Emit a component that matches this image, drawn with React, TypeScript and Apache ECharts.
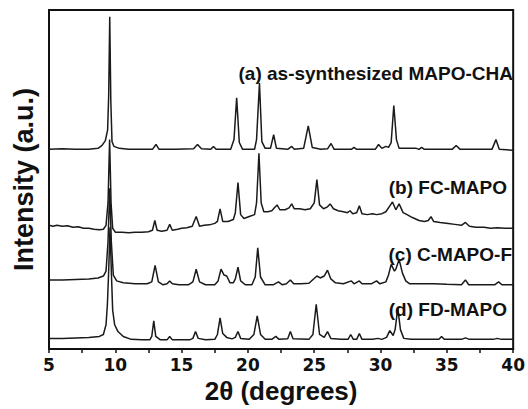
import React, { useEffect, useRef } from "react";
import * as echarts from "echarts";

const xTicks = [5, 10, 15, 20, 25, 30, 35, 40];

const traceA: [number, number][] = [
  [5.0, 205], [6.0, 205.5], [7.0, 205], [8.0, 205], [8.7, 206], [9.0, 209], [9.25, 214], [9.42, 225], [9.5, 260], [9.58, 341],
  [9.66, 255], [9.75, 213], [9.9, 208], [10.3, 206], [11, 205], [12, 205], [12.8, 205], [13.07, 210], [13.3, 205],
  [14.5, 205], [15.9, 205.5], [16.2, 210], [16.5, 205.5], [17.2, 205], [17.4, 208], [17.6, 205], [18.7, 205],
  [18.95, 215], [19.15, 258], [19.35, 212], [19.6, 205], [20.5, 205], [20.65, 215], [20.87, 273], [21.05, 213],
  [21.3, 206], [21.7, 206], [21.94, 220], [22.15, 206], [23.0, 205], [23.3, 208], [23.5, 205], [24.2, 206],
  [24.55, 229], [24.85, 207], [25.5, 205], [26.0, 205.5], [26.27, 211], [26.5, 205], [27.8, 205], [28.0, 207],
  [28.2, 205], [29.6, 205], [29.85, 210], [30.1, 206], [30.4, 208], [30.6, 207], [30.8, 212], [31.0, 250],
  [31.2, 215], [31.4, 206], [32.7, 206], [32.9, 205], [33.1, 207], [33.3, 205], [35.4, 205], [35.7, 209],
  [36.0, 205], [38.4, 205], [38.7, 215], [38.95, 205], [40, 204],
];

const traceB: [number, number][] = [
  [5.0, 127], [5.3, 126], [5.6, 127], [6.0, 126], [6.4, 126.5], [6.8, 125], [7.2, 125.5], [7.6, 124], [8.0, 124],
  [8.4, 123], [8.8, 122.5], [9.1, 123], [9.3, 127], [9.45, 150], [9.57, 215], [9.68, 150], [9.8, 124], [10.0, 120],
  [10.5, 120], [11.0, 119.5], [11.5, 120], [12.0, 120], [12.5, 120.5], [12.8, 122], [12.98, 132], [13.15, 122],
  [13.5, 121], [13.9, 122], [14.1, 128], [14.3, 122], [14.7, 123], [15.0, 124], [15.4, 124.5], [15.8, 126],
  [16.1, 136], [16.35, 126], [16.7, 127], [17.1, 127.5], [17.5, 129], [17.7, 131], [17.9, 144], [18.1, 131],
  [18.5, 131], [18.9, 133], [19.05, 140], [19.25, 171], [19.45, 138], [19.7, 134], [20.1, 136], [20.5, 138],
  [20.65, 150], [20.83, 201], [21.0, 150], [21.2, 141], [21.5, 141], [21.8, 142], [22.0, 145], [22.2, 148],
  [22.4, 143], [22.8, 143], [23.1, 145], [23.3, 149], [23.5, 144], [23.9, 144], [24.3, 143], [24.7, 144],
  [25.0, 150], [25.2, 174], [25.4, 148], [25.7, 144], [26.0, 146], [26.2, 149], [26.45, 144], [26.8, 142],
  [27.2, 141], [27.5, 140], [27.7, 142], [27.9, 139], [28.2, 140], [28.4, 147], [28.6, 139], [29.0, 138],
  [29.4, 139], [29.7, 138], [30.1, 139], [30.4, 141], [30.7, 147], [30.9, 151], [31.15, 143], [31.4, 149],
  [31.7, 140], [32.0, 138], [32.4, 135], [32.9, 132], [33.3, 131], [33.6, 132], [33.8, 136], [34.0, 131],
  [34.5, 130], [35.1, 129], [35.6, 128], [36.1, 127], [36.4, 130], [36.7, 126], [37.2, 125], [37.8, 125],
  [38.3, 124], [38.8, 124.5], [39.4, 124], [40.0, 124],
];

const traceC: [number, number][] = [
  [5.0, 71], [6.0, 71], [7.0, 71.5], [8.0, 72], [8.7, 73], [9.1, 75], [9.3, 80], [9.45, 110], [9.58, 165],
  [9.7, 110], [9.85, 76], [10.1, 70], [10.6, 68], [11.5, 67], [12.4, 67], [12.75, 69], [13.0, 86], [13.25, 69],
  [13.6, 66], [13.9, 67], [14.1, 70], [14.3, 67], [14.8, 66], [15.5, 66], [15.85, 69], [16.1, 82], [16.35, 69],
  [16.8, 66], [17.5, 66], [17.75, 70], [17.97, 82], [18.2, 76], [18.4, 75], [18.65, 68], [18.9, 68], [19.05, 72],
  [19.25, 84], [19.45, 70], [19.8, 66], [20.3, 66], [20.55, 74], [20.74, 104], [20.95, 74], [21.3, 66], [21.9, 66],
  [22.3, 69], [22.6, 66], [22.9, 67], [23.2, 71], [23.45, 67], [24.0, 67], [24.6, 67.5], [24.95, 72], [25.2, 75],
  [25.45, 73], [25.75, 75], [26.0, 81], [26.25, 72], [26.6, 68], [27.2, 67], [27.8, 70], [28.0, 67], [28.4, 70],
  [28.6, 67], [29.3, 67], [29.7, 70], [29.95, 67], [30.4, 69], [30.6, 76], [30.8, 87], [31.05, 80], [31.15, 82],
  [31.4, 92], [31.65, 78], [31.9, 70], [32.2, 67], [33, 67], [34, 67], [35, 66.5], [36.1, 66], [36.4, 71],
  [36.65, 66], [37.5, 66], [38.6, 66], [38.9, 69], [39.15, 66], [40.0, 66],
];

const traceD: [number, number][] = [
  [5.0, 11], [6.0, 11], [7.0, 11.5], [8.0, 12], [8.8, 13], [9.1, 15], [9.3, 25], [9.4, 45], [9.5, 80], [9.6, 125],
  [9.7, 80], [9.8, 40], [9.95, 25], [10.2, 18], [10.6, 13], [11.2, 10], [12.0, 9.5], [12.6, 9.5], [12.75, 13],
  [12.9, 29], [13.05, 13], [13.4, 9.5], [13.9, 9.5], [14.1, 13], [14.3, 9.5], [15.6, 9.5], [15.85, 11], [16.05, 18],
  [16.25, 11], [16.8, 9.5], [17.5, 10], [17.7, 15], [17.9, 32], [18.1, 16], [18.4, 12], [18.8, 10.5], [19.05, 12],
  [19.25, 18], [19.45, 11], [20.1, 10], [20.45, 15], [20.7, 34], [20.95, 15], [21.3, 10], [21.8, 10], [22.1, 13],
  [22.35, 10], [23.0, 10.5], [23.2, 18], [23.4, 10.5], [24.6, 10], [24.9, 15], [25.15, 46], [25.4, 15], [25.75, 12],
  [26.0, 18], [26.25, 11], [27.0, 10], [27.55, 10], [27.75, 15], [27.95, 10], [28.2, 10], [28.4, 16], [28.6, 10],
  [29.4, 10], [29.8, 11], [30.1, 10], [30.45, 12], [30.7, 19], [30.95, 14], [31.1, 20], [31.3, 42], [31.5, 20],
  [31.75, 11], [32.3, 10], [33.5, 10], [34.4, 10], [34.6, 13], [34.8, 10], [36.1, 10], [36.4, 11.5], [36.7, 10],
  [38.5, 10], [38.8, 11], [39.1, 10], [40.0, 10],
];

const traceLabels = [
  "(a) as-synthesized MAPO-CHA",
  "(b) FC-MAPO",
  "(c) C-MAPO-F",
  "(d) FD-MAPO",
];
const traces = [traceA, traceB, traceC, traceD];

const labelPos = [
  { x: 513, y: 73 },
  { x: 507, y: 187 },
  { x: 512, y: 254 },
  { x: 507, y: 309 },
];

export default function App() {
  const ref = useRef<HTMLDivElement>(null);
  useEffect(() => {
    if (!ref.current) return;
    const chart = echarts.init(ref.current, undefined, { renderer: "svg" });
    chart.setOption({
      animation: false,
      backgroundColor: "#ffffff",
      grid: {
        left: 49,
        right: 10,
        top: 10,
        bottom: 51,
        show: true,
        borderColor: "#111",
        borderWidth: 2,
        backgroundColor: "transparent",
      },
      xAxis: {
        type: "value",
        min: xTicks[0],
        max: xTicks[xTicks.length - 1],
        interval: 5,
        name: "2θ (degrees)",
        nameLocation: "middle",
        nameGap: 24,
        nameTextStyle: {
          fontFamily: "Liberation Sans",
          fontWeight: "bold",
          fontSize: 26,
          color: "#111",
        },
        axisLine: { show: true, lineStyle: { color: "#111", width: 2 } },
        axisTick: { show: true, inside: false, length: 4, lineStyle: { color: "#111", width: 1.5 } },
        minorTick: { show: true, splitNumber: 2, length: 4, lineStyle: { color: "#111", width: 1.5 } },
        splitLine: { show: false },
        axisLabel: {
          margin: 7,
          fontFamily: "DejaVu Sans",
          fontWeight: "bold",
          fontSize: 17,
          color: "#111",
        },
      },
      yAxis: {
        type: "value",
        min: 0,
        max: 348,
        name: "Intensity (a.u.)",
        nameLocation: "middle",
        nameGap: 12,
        nameTextStyle: {
          fontFamily: "Liberation Sans",
          fontWeight: "bold",
          fontSize: 27,
          color: "#111",
        },
        axisLine: { show: true, lineStyle: { color: "#111", width: 2 } },
        axisTick: { show: false },
        axisLabel: { show: false },
        splitLine: { show: false },
      },
      series: traces.map((d, i) => ({
        type: "line",
        name: traceLabels[i],
        data: d,
        showSymbol: false,
        symbol: "none",
        lineStyle: { color: "#1a1a1a", width: 1.5 },
        z: 2,
      })),
      graphic: traceLabels.map((t, i) => ({
        type: "text",
        x: labelPos[i].x,
        y: labelPos[i].y,
        style: {
          text: t,
          fontFamily: "Liberation Sans",
          fontWeight: "bold",
          fontSize: 19,
          fill: "#111",
          textAlign: "right",
          textVerticalAlign: "middle",
        },
        z: 10,
      })),
    });
    return () => chart.dispose();
  }, []);
  return (
    <div
      ref={ref}
      style={{ position: "absolute", left: 0, top: 0, width: 528, height: 409 }}
    />
  );
}
